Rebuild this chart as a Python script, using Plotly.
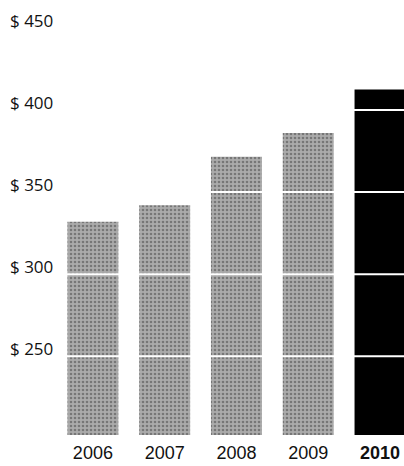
import plotly.graph_objects as go

years = ["2006", "2007", "2008", "2009", "2010"]
year_labels = ["2006", "2007", "2008", "2009", "<b>2010</b>"]
values = [332, 342, 371.5, 386, 412.5]
bar_colors = ["#ababab", "#ababab", "#ababab", "#ababab", "#000000"]
pattern_shapes = [".", ".", ".", ".", ""]
y_ticks = [250, 300, 350, 400, 450]
y_tick_labels = ["$ 250", "$ 300", "$ 350", "$ 400", "$ 450"]
grid_vals = [250, 300, 350, 400]

fig = go.Figure()
fig.add_trace(go.Bar(
    x=years, y=values, base=0,
    width=0.71,
    marker=dict(color=bar_colors, line=dict(width=0),
                pattern=dict(shape=pattern_shapes, fgcolor="#727272", size=4, solidity=0.35)),
))

for g in grid_vals:
    fig.add_shape(type="line", xref="paper", x0=0, x1=1, yref="y", y0=g, y1=g,
                  line=dict(color="white", width=2), layer="above")

for v, t in zip(y_ticks, y_tick_labels):
    fig.add_annotation(xref="paper", x=0, yref="y", y=v, text=t, showarrow=False,
                       xanchor="right", yanchor="middle", xshift=-2, yshift=8,
                       font=dict(family="Open Sans, Noto Sans, sans-serif", size=17, color="#111111"))

fig.update_layout(
    width=404, height=466,
    margin=dict(l=57, r=0, t=28, b=31),
    paper_bgcolor="white", plot_bgcolor="white",
    showlegend=False,
    xaxis=dict(type="category", range=[-0.5, 4.334], tickvals=years, ticktext=year_labels,
               showgrid=False, zeroline=False, showline=False, ticks="",
               ticklabelstandoff=5,
               tickfont=dict(family="Liberation Sans, Arial, sans-serif", size=18, color="#111111")),
    yaxis=dict(range=[202, 450], showticklabels=False,
               showgrid=False, zeroline=False, showline=False, ticks=""),
)

fig.write_html("out.html")
